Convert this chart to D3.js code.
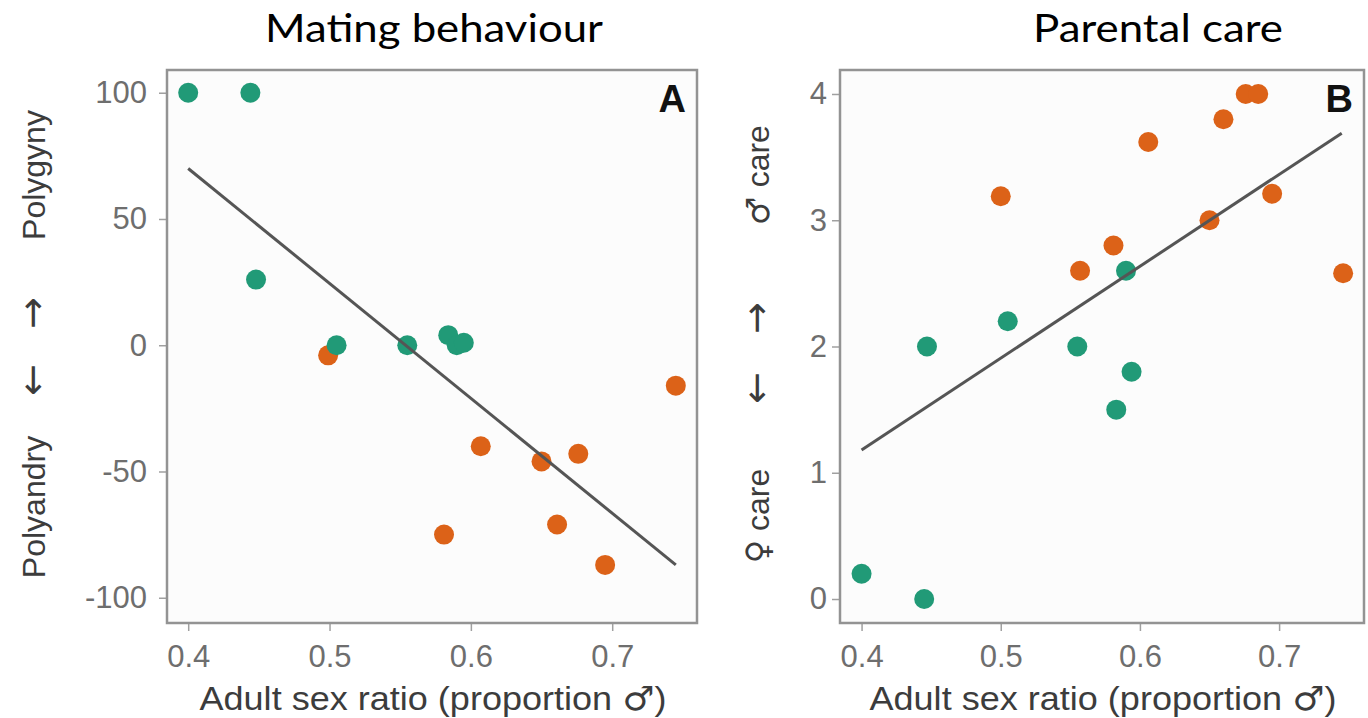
<!DOCTYPE html>
<html>
<head>
<meta charset="utf-8">
<script src="https://cdn.jsdelivr.net/npm/d3@7"></script>
<style>
  html, body { margin: 0; padding: 0; background: #ffffff; }
  svg { display: block; }
  .tick text { fill: #6e6e6e; font-family: "Liberation Sans", Arial, sans-serif; }
  .tick line { stroke: #a0a0a0; stroke-width: 1.5; }
  .domain { display: none; }
</style>
</head>
<body>
<svg id="chart" width="1368" height="718"></svg>
<script>
// ---- Panel A: mating behaviour vs adult sex ratio ----
const matingGreenX = [0.400, 0.444, 0.448, 0.505, 0.555, 0.584, 0.590, 0.595];
const matingGreenY = [100, 100, 26, 0, 0, 4, 0, 1];
const matingOrangeX = [0.499, 0.581, 0.607, 0.650, 0.661, 0.676, 0.695, 0.745];
const matingOrangeY = [-4, -75, -40, -46, -71, -43, -87, -16];
const matingFitX = [0.400, 0.745];
const matingFitY = [70, -87];
const matingYTicks = [-100, -50, 0, 50, 100];

// ---- Panel B: parental care vs adult sex ratio ----
const careGreenX = [0.400, 0.445, 0.447, 0.505, 0.555, 0.583, 0.590, 0.594];
const careGreenY = [0.2, 0.0, 2.0, 2.2, 2.0, 1.5, 2.6, 1.8];
const careOrangeX = [0.500, 0.557, 0.581, 0.606, 0.650, 0.660, 0.676, 0.685, 0.695, 0.746];
const careOrangeY = [3.19, 2.6, 2.8, 3.62, 3.0, 3.8, 4.0, 4.0, 3.21, 2.58];
const careFitX = [0.400, 0.745];
const careFitY = [1.18, 3.69];
const careYTicks = [0, 1, 2, 3, 4];

const xTicks = [0.4, 0.5, 0.6, 0.7];

const GREEN = "#219a77";
const ORANGE = "#dc6218";
const FIT = "#555555";
const SANS = "'Liberation Sans', Arial, sans-serif";
const SYMBOL = "'DejaVu Sans', sans-serif";

const svg = d3.select("#chart");

function zip(xs, ys) { return xs.map((x, i) => ({ x: x, y: ys[i] })); }

// write text made of [string, isSymbol] parts into a text element
function parts(sel, list, symSize) {
  list.forEach(([s, sym]) => {
    const t = sel.append("tspan").text(s);
    if (sym) t.attr("font-family", SYMBOL).attr("font-size", symSize);
  });
}

function panel(cfg) {
  const g = svg.append("g");
  const x = d3.scaleLinear().domain(cfg.xDomain).range([cfg.left, cfg.right]);
  const y = d3.scaleLinear().domain(cfg.yDomain).range([cfg.bottom, cfg.top]);

  // plot background
  g.append("rect")
    .attr("x", cfg.left).attr("y", cfg.top)
    .attr("width", cfg.right - cfg.left).attr("height", cfg.bottom - cfg.top)
    .attr("fill", "#fcfcfc");

  // axes
  const xAxis = g.append("g")
    .attr("transform", `translate(0,${cfg.bottom})`)
    .call(d3.axisBottom(x).tickValues(xTicks).tickFormat(d3.format(".1f")).tickSize(8).tickPadding(14));
  xAxis.selectAll("text").attr("font-size", 31);

  const yAxis = g.append("g")
    .attr("transform", `translate(${cfg.left},0)`)
    .call(d3.axisLeft(y).tickValues(cfg.yTicks).tickFormat(d => String(d)).tickSize(8).tickPadding(cfg.yPad));
  yAxis.selectAll("text").attr("font-size", 31);

  // points: orange behind green
  g.append("g").selectAll("circle")
    .data(zip(cfg.orangeX, cfg.orangeY)).join("circle")
    .attr("cx", d => x(d.x)).attr("cy", d => y(d.y)).attr("r", 10)
    .attr("fill", ORANGE);
  g.append("g").selectAll("circle")
    .data(zip(cfg.greenX, cfg.greenY)).join("circle")
    .attr("cx", d => x(d.x)).attr("cy", d => y(d.y)).attr("r", 10)
    .attr("fill", GREEN);

  // fitted line
  g.append("path")
    .datum(zip(cfg.fitX, cfg.fitY))
    .attr("d", d3.line().x(d => x(d.x)).y(d => y(d.y)))
    .attr("fill", "none").attr("stroke", FIT).attr("stroke-width", 3);

  // frame
  g.append("rect")
    .attr("x", cfg.left).attr("y", cfg.top)
    .attr("width", cfg.right - cfg.left).attr("height", cfg.bottom - cfg.top)
    .attr("fill", "none").attr("stroke", "#939393").attr("stroke-width", 2.5);

  // panel letter
  g.append("text")
    .attr("x", cfg.right - 11).attr("y", cfg.top + 42)
    .attr("text-anchor", "end")
    .attr("font-family", SANS)
    .attr("font-weight", "bold").attr("font-size", 38).attr("fill", "#111")
    .text(cfg.letter);

  // x title
  const xt = g.append("text")
    .attr("x", (cfg.left + cfg.right) / 2 + 1).attr("y", 710)
    .attr("text-anchor", "middle")
    .attr("font-family", SANS)
    .attr("font-size", 33).attr("fill", "#3c3c3c")
    .attr("textLength", 467).attr("lengthAdjust", "spacingAndGlyphs");
  parts(xt, [["Adult sex ratio (proportion ", false], ["\u2642", true], [")", false]], 33);

  // y title pieces, rotated
  cfg.yLabels.forEach(l => {
    const t = g.append("text")
      .attr("transform", `translate(${cfg.yLabelX},${l.cy}) rotate(-90)`)
      .attr("text-anchor", "middle")
      .attr("font-family", SANS)
      .attr("font-size", 32).attr("fill", "#3c3c3c");
    parts(t, l.parts, l.symSize || 32);
  });

  // panel heading
  svg.append("text")
    .attr("x", cfg.headX).attr("y", 42)
    .attr("text-anchor", "middle")
    .attr("font-family", "Lato, 'Open Sans', sans-serif")
    .attr("font-size", 38).attr("fill", "#000")
    .attr("textLength", cfg.headW).attr("lengthAdjust", "spacingAndGlyphs")
    .text(cfg.heading);
}

panel({
  left: 167, right: 697, top: 70, bottom: 623,
  xDomain: [0.385, 0.76], yDomain: [-110, 109], yTicks: matingYTicks, yPad: 12,
  greenX: matingGreenX, greenY: matingGreenY,
  orangeX: matingOrangeX, orangeY: matingOrangeY,
  fitX: matingFitX, fitY: matingFitY,
  letter: "A", heading: "Mating behaviour", headX: 434, headW: 338,
  yLabelX: 45,
  yLabels: [
    { parts: [["Polygyny", false]], cy: 175 },
    { parts: [["\u2192", true]], cy: 313, symSize: 38 },
    { parts: [["\u2190", true]], cy: 380, symSize: 38 },
    { parts: [["Polyandry", false]], cy: 507 }
  ]
});

panel({
  left: 840, right: 1364, top: 70, bottom: 623,
  xDomain: [0.3845, 0.761], yDomain: [-0.19, 4.19], yTicks: careYTicks, yPad: 5,
  greenX: careGreenX, greenY: careGreenY,
  orangeX: careOrangeX, orangeY: careOrangeY,
  fitX: careFitX, fitY: careFitY,
  letter: "B", heading: "Parental care", headX: 1158, headW: 250,
  yLabelX: 769,
  yLabels: [
    { parts: [["\u2642", true], [" care", false]], cy: 175, symSize: 32 },
    { parts: [["\u2192", true]], cy: 318, symSize: 38 },
    { parts: [["\u2190", true]], cy: 388, symSize: 38 },
    { parts: [["\u2640", true], [" care", false]], cy: 516, symSize: 32 }
  ]
});
</script>
</body>
</html>
